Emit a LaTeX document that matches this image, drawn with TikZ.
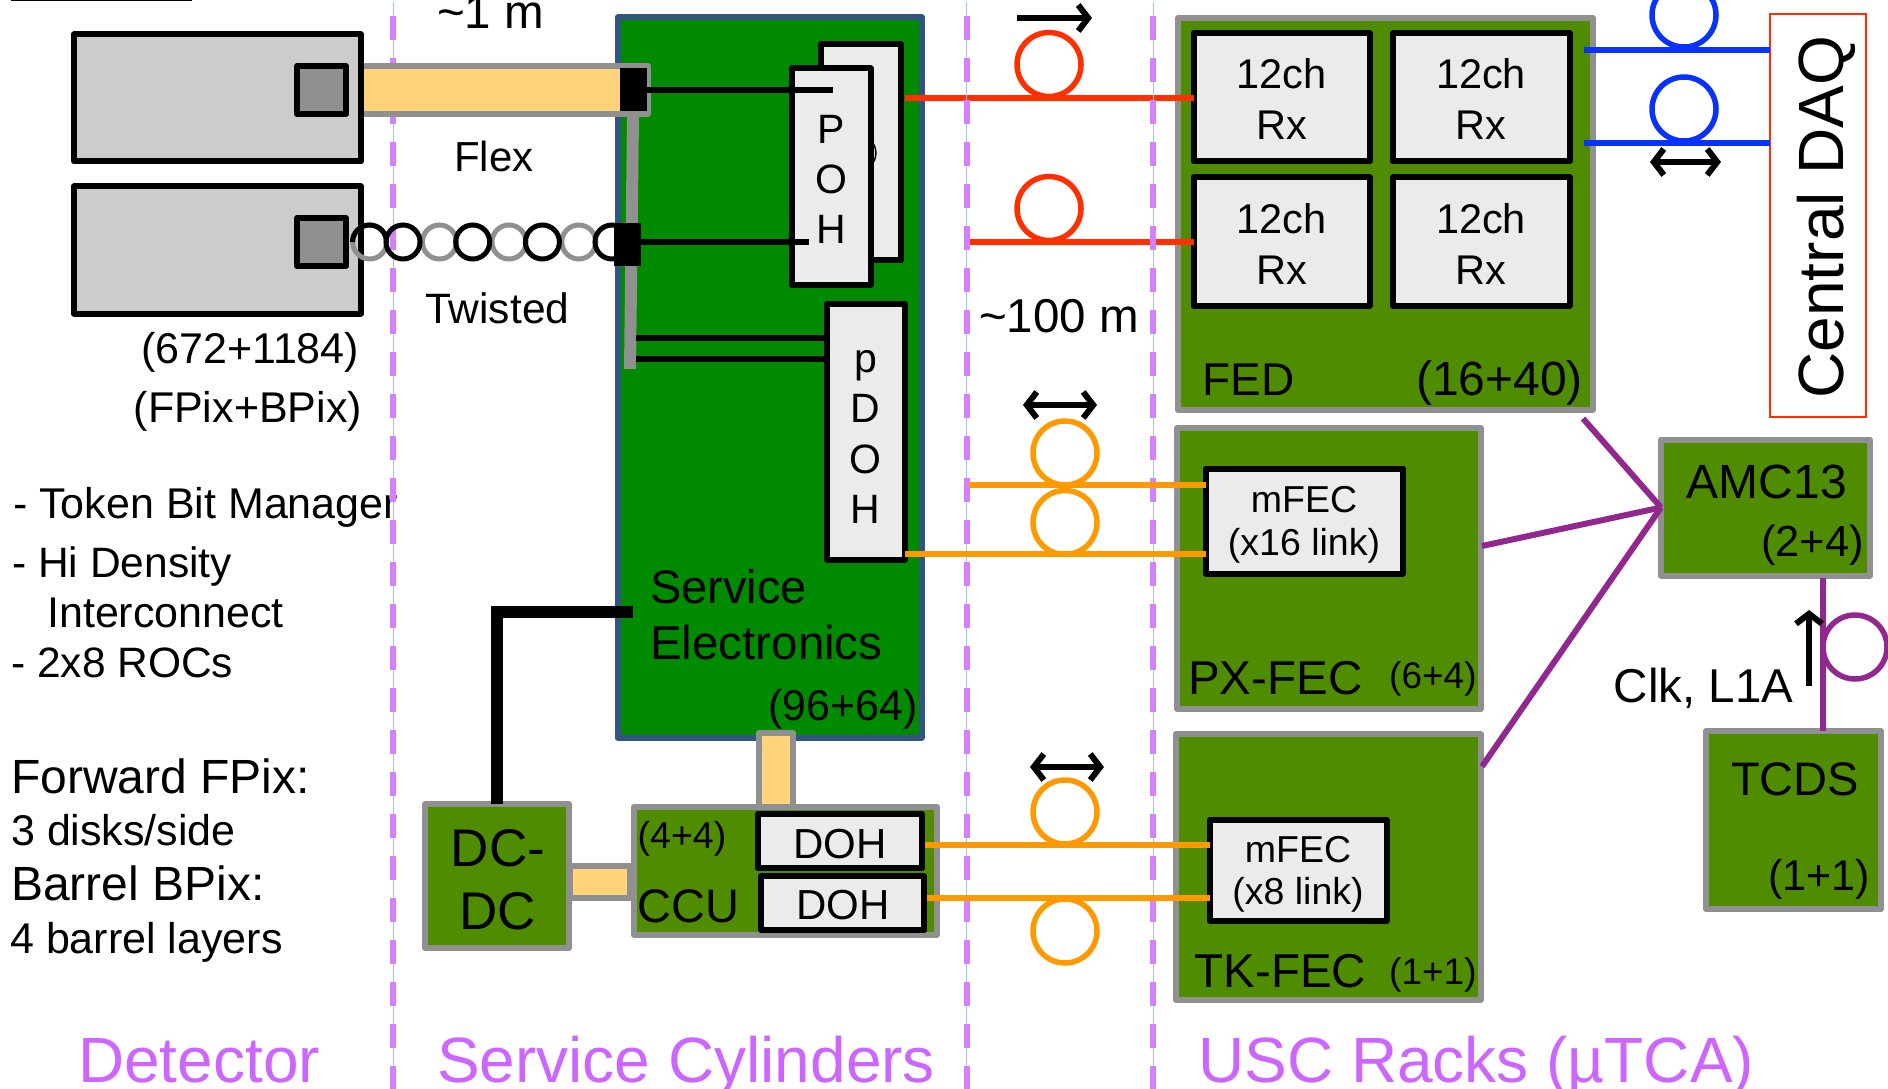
\documentclass[tikz,border=0pt]{standalone}
\usepackage{fontspec}
\setmainfont{Liberation Sans}
\usetikzlibrary{arrows.meta,positioning,calc}
\definecolor{edgegray}{HTML}{909090}
\definecolor{rackgreen}{HTML}{508C00}
\definecolor{svcgreen}{HTML}{008A00}
\definecolor{svcblue}{HTML}{31557F}
\definecolor{flexyellow}{HTML}{FFD37A}
\definecolor{cellgray}{HTML}{EBEBEB}
\definecolor{detgray}{HTML}{CCCCCC}
\definecolor{chipgray}{HTML}{909090}
\definecolor{fibred}{HTML}{FF2F00}
\definecolor{fibblue}{HTML}{0A32FF}
\definecolor{fiborange}{HTML}{FF9900}
\definecolor{ctrlpurple}{HTML}{92278F}
\definecolor{seppurple}{HTML}{D580FF}
\definecolor{sepblue}{HTML}{9DC3E6}
\definecolor{zonepurple}{HTML}{CC66FF}
\newcommand{\fsz}[1]{\fontsize{#1}{#1}\selectfont}
\begin{document}
\begin{tikzpicture}[
  x=1pt, y=-1pt,
  box/.style={rectangle, draw, line join=round, inner sep=0pt, outer sep=0pt, align=center,
              line width=6pt, minimum width=#1},
  rack/.style={box=#1, draw=edgegray, fill=rackgreen},
  cell/.style={box=#1, draw=black, fill=cellgray},
  det/.style={box=287, draw=black, fill=detgray, minimum height=127},
  chip/.style={box=49, draw=black, fill=chipgray, minimum height=48},
  band/.style={box=#1, draw=edgegray, fill=flexyellow},
  plug/.style={rectangle, fill=black, inner sep=0pt, outer sep=0pt, minimum width=27, minimum height=43},
  loopn/.style={circle, draw=#1, line width=5.5pt, inner sep=0pt, minimum size=64},
  fib/.style={draw=#1, line width=6pt},
  ctrl/.style={draw=ctrlpurple, line width=6pt},
  wire/.style={draw=black, line width=6pt},
  barb/.style={draw=black, line width=6pt},
  head/.style={-{Straight Barb[length=10pt,width=26pt,line width=6pt]}},
  heads/.style={{Straight Barb[length=10pt,width=26pt,line width=6pt]}-{Straight Barb[length=10pt,width=26pt,line width=6pt]}},
  twist/.style={draw=#1, line width=5pt, circle, inner sep=0pt, minimum size=34},
  lbl/.style={inner sep=0pt, anchor=base west},
  lblc/.style={inner sep=0pt, anchor=base},
  zone/.style={lbl, text=zonepurple, font=\fsz{64}}
]
\useasboundingbox (0,0) rectangle (1888,1088.5);
\clip (0,0) rectangle (1888,1088.5);
\draw[line width=2pt] (11,0.5) -- (192,0.5);

\node[lbl, font=\fsz{43}] (tbm)  at (13,518) {- Token Bit Manager};
\node[lbl, font=\fsz{42.5}] (hdi)  at (12,577) {- Hi Density};
\node[lbl, font=\fsz{43}] (ict)  at (47,627) {Interconnect};
\node[lbl, font=\fsz{42.5}] (rocs) at (11,677) {- 2x8 ROCs};
\node[lbl, font=\fsz{48}] (fwd)  at (11,793) {Forward FPix:};
\node[lbl, font=\fsz{43}] (dsk)  at (11,845) {3 disks/side};
\node[lbl, font=\fsz{48}] (brl)  at (11,900) {Barrel BPix:};
\node[lbl, font=\fsz{43}] (lay)  at (10,953) {4 barrel layers};

\node[box=304, draw=svcblue, fill=svcgreen, minimum height=720] (svc) at (769.5,377.5) {};
\node[rack=415, minimum height=392] (fed) at (1385.5,214) {};
\node[rack=303.5, minimum height=280.5] (pxfec) at (1329,568.5) {};
\node[rack=305, minimum height=265.6] (tkfec) at (1328.3,866.8) {};
\node[rack=209, minimum height=136] (amc) at (1765.5,507.5) {};
\node[rack=175, minimum height=178] (tcds) at (1793.5,820) {};
\node[rectangle, draw=fibred, line width=2pt, outer sep=0pt, minimum width=96, minimum height=403] (daq) at (1818,215.5) {};
\node[lblc, rotate=90, font=\fsz{64}] (txdaq) at (1843,217) {Central DAQ};

\node[cell=176, minimum height=128, font=\fontsize{41.5}{51}\selectfont] (rxa) at (1281.5,97.5) {\rule{0pt}{34pt}12ch\\Rx};
\node[cell=177, minimum height=128, font=\fontsize{41.5}{51}\selectfont] (rxb) at (1481,97.5) {\rule{0pt}{34pt}12ch\\Rx};
\node[cell=176, minimum height=128, font=\fontsize{41.5}{51}\selectfont] (rxc) at (1281.5,241.5) {\rule{0pt}{34pt}12ch\\Rx};
\node[cell=177, minimum height=128, font=\fontsize{41.5}{51}\selectfont] (rxd) at (1481,241.5) {\rule{0pt}{34pt}12ch\\Rx};

\node[loopn=fibred] (lpa) at (1049,64.5) {};
\node[loopn=fibred] (lpb) at (1049,208.5) {};
\coordinate (reda) at (905,98);
\coordinate (redb) at (969,242);
\draw[fib=fibred] (reda) -- (rxa.west |- reda);
\draw[fib=fibred] (redb) -- (rxc.west |- redb);

\foreach \sx in {393,966.5,1153} {
  \draw[draw=sepblue, line width=1pt] (\sx,2) -- (\sx,1090);
  \draw[draw=seppurple, line width=6pt, dash pattern=on 24pt off 18pt, dash phase=26pt] (\sx,0) -- (\sx,1090);
}

\node[band=288, minimum height=48] (flex) at (504,90) {};
\node[det] (deta) at (217.5,98) {};
\node[det] (detb) at (217.5,250) {};
\node[chip] (chipa) at (321.5,90) {};
\node[chip] (chipb) at (321.5,242) {};
\coordinate (bartop) at (633,117);
\coordinate (barend) at (630,369);
\draw[draw=edgegray, line width=12pt] (bartop) -- (barend);
\node[plug] (pluga) at (633.5,89.5) {};

\foreach \tx in {369.7,439.4,509,578.8}
  \node[twist=edgegray] (tg\tx) at (\tx,242) {};
\foreach \tx in {403,472.7,542.4,612}
  \node[twist=black] (tb\tx) at (\tx,242) {};
\draw[draw=black, line width=5pt] (352.5,242) arc (180:360:17);
\node[plug] (plugb) at (627.5,244.5) {};

\node[cell=80, minimum height=216] (pohr) at (860.5,152.5) {};
\draw[line width=1.5pt] (873,143) .. controls (877,150) and (877,156) .. (873,163);
\node[cell=79, minimum height=216, font=\fontsize{41}{50}\selectfont] (poh) at (831,176.5) {\rule{0pt}{34pt}P\\O\\H};
\node[cell=78, minimum height=256, font=\fontsize{41}{50.5}\selectfont] (pdoh) at (865.5,431.5) {\rule{0pt}{33pt}p\\D\\O\\H};
\coordinate (poha) at (833,90);
\coordinate (pohb) at (809,242);
\draw[wire] (pluga.east |- poha) -- (poha);
\draw[wire] (plugb.east |- pohb) -- (pohb);
\coordinate (barp) at (636,338);
\coordinate (barq) at (636,359);
\draw[wire] (barp) -- (barp -| pdoh.west);
\draw[wire] (barq) -- (barq -| pdoh.west);

\node[band=60, minimum height=32] (dclink) at (600,881.8) {};
\node[band=34.4, minimum height=77] (svclink) at (775.8,771.5) {};
\node[rack=303.4, minimum height=127.7] (ccu) at (785.3,870.8) {};
\node[rack=143.6, minimum height=143.5] (dcdc) at (497.2,876.2) {};
\node[cell=164, minimum height=54] (doha) at (840,841.2) {};
\node[cell=163.3, minimum height=54] (dohb) at (842.8,903) {};
\coordinate (svcpow) at (633,612);
\draw[draw=black, line width=12pt] (dcdc.north) |- (svcpow);

\node[cell=197, minimum height=105, text depth=0pt, font=\fontsize{37.5}{42.5}\selectfont] (mfeca) at (1304,521) {mFEC\\(x16 link)};
\node[cell=177, minimum height=100.5, text depth=0pt, font=\fontsize{37.5}{42.5}\selectfont] (mfecb) at (1298,870.3) {mFEC\\(x8 link)};

\node[loopn=fiborange] (lpc) at (1065,453) {};
\node[loopn=fiborange] (lpd) at (1065,522.5) {};
\node[loopn=fiborange] (lpe) at (1065,812) {};
\node[loopn=fiborange] (lpf) at (1065,931) {};
\coordinate (orga) at (969,484.5);
\coordinate (orgb) at (905,553.5);
\coordinate (orgc) at (924.5,844.5);
\coordinate (orgd) at (927,898);
\draw[fib=fiborange] (orga) -- (orga -| mfeca.west);
\draw[fib=fiborange] (orgb) -- (orgb -| mfeca.west);
\draw[fib=fiborange] (orgc) -- (orgc -| mfecb.west);
\draw[fib=fiborange] (orgd) -- (orgd -| mfecb.west);

\node[loopn=fibblue] (lpg) at (1684,15) {};
\node[loopn=fibblue] (lph) at (1684,109) {};
\coordinate (blua) at (1584,50);
\coordinate (blub) at (1584,143);
\draw[fib=fibblue] (blua) -- (blua -| daq.west);
\draw[fib=fibblue] (blub) -- (blub -| daq.west);

\coordinate (fedc) at (1583,418.5);
\coordinate (pxc) at (1482,546);
\coordinate (tkc) at (1482,766.5);
\draw[ctrl] (fedc) -- (amc.west);
\draw[ctrl] (pxc) -- (amc.west);
\draw[ctrl] (tkc) -- (amc.west);
\coordinate (clkup) at (1822.5,578);
\draw[ctrl] (clkup) -- (clkup |- tcds.north);
\node[loopn=ctrlpurple] (lpi) at (1855,647) {};

\coordinate (ara) at (1017,18);
\coordinate (arb) at (1092,18);
\draw[barb, head] (ara) -- (arb);
\coordinate (arc) at (1023,405);
\coordinate (ard) at (1097,405);
\draw[barb, heads] (arc) -- (ard);
\coordinate (are) at (1030,767);
\coordinate (arf) at (1104,767);
\draw[barb, heads] (are) -- (arf);
\coordinate (arg) at (1650,162);
\coordinate (arh) at (1721,162);
\draw[barb, heads] (arg) -- (arh);
\coordinate (ari) at (1809,686);
\coordinate (arj) at (1809,610);
\draw[barb, head] (ari) -- (arj);

\node[lbl, font=\fsz{47.5}] (txone)  at (437,29) {\textasciitilde 1 m};
\node[lbl, font=\fsz{42}] (txflex) at (454,172) {Flex};
\node[lbl, font=\fsz{42.5}] (txtw)   at (425,323) {Twisted};
\node[lbl, font=\fsz{43}] (txfe)   at (141,363) {(672+1184)};
\node[lbl, font=\fsz{43}] (txpix)  at (133.5,422) {(FPix+BPix)};
\node[lbl, font=\fsz{47.5}] (txhun)  at (979,332) {\textasciitilde 100 m};
\node[lbl, font=\fsz{47}] (txsa)   at (650,603) {Service};
\node[lbl, font=\fsz{47.5}] (txsb)   at (650,659) {Electronics};
\node[lbl, font=\fsz{43}] (txsc)   at (768,720) {(96+64)};
\node[lblc, font=\fsz{53}] (txdca) at (498,866) {DC-};
\node[lblc, font=\fsz{53}] (txdcb) at (498,929) {DC};
\node[lbl, font=\fsz{37.5}] (txccn)  at (637.5,848) {(4+4)};
\node[lbl, font=\fsz{47}] (txccu)  at (637,922) {CCU};
\node[lblc, font=\fsz{42}] (txdoa) at (840.3,858) {DOH};
\node[lblc, font=\fsz{42}] (txdob) at (843,919) {DOH};
\node[lbl, font=\fsz{46}] (txfed)  at (1202,395) {FED};
\node[lbl, font=\fsz{48}] (txfen)  at (1416,395) {(16+40)};
\node[lbl, font=\fsz{47.5}] (txpx)   at (1188,694) {PX-FEC};
\node[lbl, font=\fsz{37}] (txpxn)  at (1389,688.5) {(6+4)};
\node[lbl, font=\fsz{47.5}] (txtk)   at (1194.5,987) {TK-FEC};
\node[lbl, font=\fsz{37}] (txtkn)  at (1389,984) {(1+1)};
\node[lbl, font=\fsz{48}] (txamc)  at (1686.5,498) {AMC13};
\node[lbl, font=\fsz{43.5}] (txamn)  at (1761,556) {(2+4)};
\node[lbl, font=\fsz{47.5}] (txclk)  at (1613.5,702) {Clk, L1A};
\node[lbl, font=\fsz{47}] (txtc)   at (1731,795) {TCDS};
\node[lbl, font=\fsz{43}] (txtcn)  at (1768,890) {(1+1)};

\node[zone] (zdet) at (78,1082) {Detector};
\node[zone] (zsvc) at (437,1082) {Service Cylinders};
\node[zone] (zusc) at (1198,1082) {USC Racks (µTCA)};
\end{tikzpicture}
\end{document}
